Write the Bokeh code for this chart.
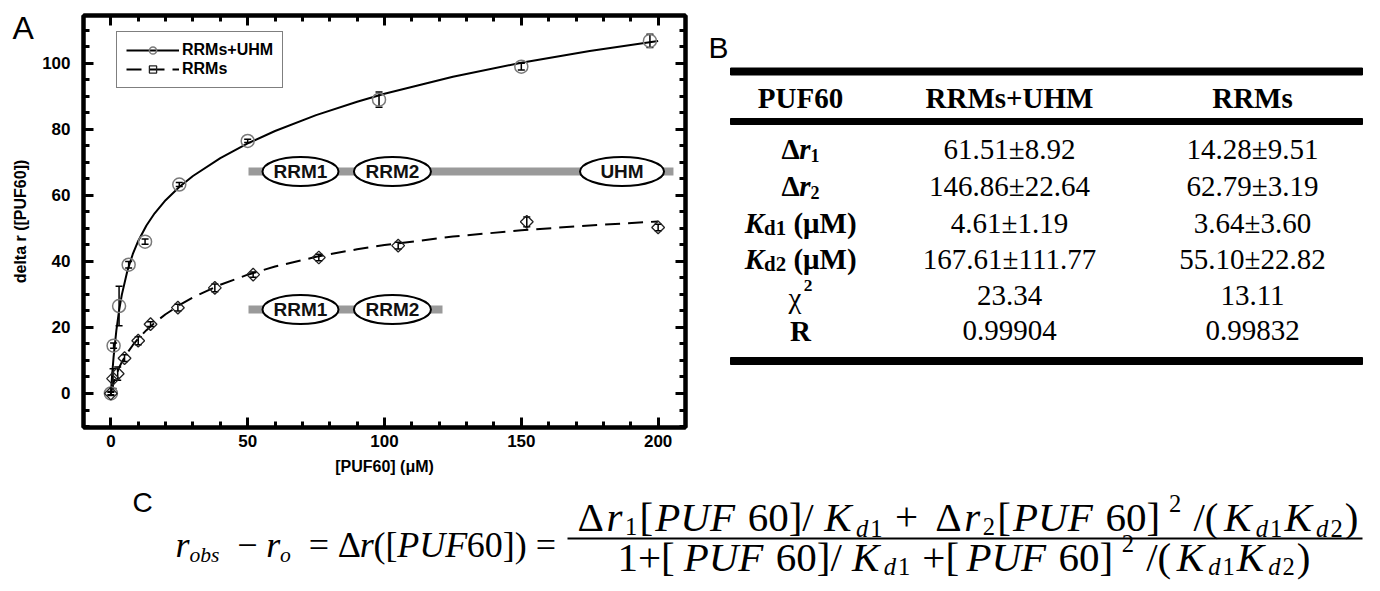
import math
from bokeh.plotting import figure
from bokeh.models import (Range1d, LinearAxis, FixedTicker, Legend, LegendItem,
                          Whisker, TeeHead, ColumnDataSource)
from bokeh.layouts import column, row
from bokeh.embed import file_html
from bokeh.resources import INLINE
from bokeh.core.properties import value

SANS = "Liberation Sans"
SERIF = "Liberation Serif"

# ---------------- data ----------------
uhm_x = [0, 1, 3, 6.5, 12.5, 25, 50, 98, 150, 197]
uhm_y = [0, 14.5, 26.5, 39.0, 46.0, 63.3, 76.5, 89.0, 99.0, 106.8]
uhm_err = [0.6, 0.8, 6.0, 1.0, 0.8, 0.6, 0.5, 2.3, 1.0, 2.0]

rrm_x = [0, 0.8, 2.5, 5, 10, 14.5, 24.5, 38, 52, 76, 105, 152, 200]
rrm_y = [0, 4.5, 6.0, 10.7, 16.0, 21.0, 26.0, 32.0, 36.0, 41.2, 44.8, 52.0, 50.3]
rrm_err = [0.4, 3.0, 2.0, 1.0, 1.2, 0.7, 1.0, 1.2, 0.8, 1.0, 1.0, 1.5, 1.0]

fit_x = [0, 0.5, 1, 2, 3, 4, 6, 8, 10, 13, 16, 20, 25, 30, 40, 50, 60, 75, 90, 100,
         125, 150, 175, 200]
uhm_fit = [0, 6.06, 11.11, 19.07, 25.11, 29.87, 37.01, 42.19, 46.21, 50.90, 54.59,
           58.55, 62.55, 65.88, 71.32, 75.74, 79.51, 84.31, 88.38, 90.78, 95.95,
           100.19, 103.77, 106.81]
rrm_fit = [0, 1.79, 3.31, 5.80, 7.80, 9.50, 12.31, 14.62, 16.61, 19.19, 21.42, 24.00,
           26.74, 29.10, 32.95, 35.99, 38.45, 41.40, 43.70, 44.97, 47.53, 49.44,
           50.92, 52.11]

x_ticks = [0, 50, 100, 150, 200]
x_minor = list(range(-10, 211, 10))
y_ticks = [0, 20, 40, 60, 80, 100]
y_minor = list(range(-10, 115, 5))

x_title = "[PUF60] (μM)"
y_title = "delta r ([PUF60])"
series_names = ["RRMs+UHM", "RRMs"]
domains_full = ["RRM1", "RRM2", "UHM"]
domains_short = ["RRM1", "RRM2"]

table_header = ["PUF60", "RRMs+UHM", "RRMs"]
table_uhm = ["61.51±8.92", "146.86±22.64", "4.61±1.19", "167.61±111.77", "23.34", "0.99904"]
table_rrm = ["14.28±9.51", "62.79±3.19", "3.64±3.60", "55.10±22.82", "13.11", "0.99832"]

# ---------------- text-run helper ----------------
WID = {
    "normal": {".": .25, "±": .564, "(": .333, ")": .333, "[": .333, "]": .333, "/": .278,
               "+": .564, "=": .564, "−": .564, " ": .25, "Δ": .612, "χ": .52, "μ": .5,
               "M": .889, "R": .667},
    "bold": {"P": .611, "U": .722, "F": .611, "R": .722, "M": .944, "s": .389, "+": .570,
             "H": .778, "d": .556, "(": .333, ")": .333, "μ": .556, "Δ": .612, " ": .25},
    "italic": {"r": .389, "o": .5, "b": .5, "s": .389, "P": .611, "U": .722, "F": .611,
               "K": .667, "d": .5, " ": .25},
    "bold italic": {"r": .389, "K": .667, " ": .25},
}


def em(txt, style):
    tab = WID[style]
    return sum(tab.get(c, 0.5) for c in txt)


def runs(fig, items, x, y, size, align="left", span=None, font=SERIF):
    widths = [em(t, st) * size * rs for t, st, rs, dy in items]
    total = sum(widths)
    k = span / total if span else 1.0
    x0 = x - total * k / 2 if align == "center" else x
    off = 0.0
    for (t, st, rs, dy), wdt in zip(items, widths):
        lead = len(t) - len(t.lstrip())
        shift = lead * WID[st].get(" ", .25) * size * rs
        fig.text(x=[x0 + off * k + shift], y=[y + dy], text=[t.strip()],
                 text_font=value(font), text_font_style=st,
                 text_font_size=f"{size * rs:.1f}px", text_align="left",
                 text_baseline="middle", text_color="black")
        off += wdt


def blank(width, height, xr, yr, top=0, bottom=0):
    f = figure(width=width, height=height, x_range=Range1d(*xr), y_range=Range1d(*yr),
               x_axis_type=None, y_axis_type=None, output_backend="svg",
               toolbar_location=None, min_border_left=0, min_border_right=0,
               min_border_top=top, min_border_bottom=bottom)
    f.outline_line_color = None
    return f


# ---------------- panel A: letter + y title strip ----------------
pL = blank(38, 482, (0, 38), (427, 15), top=15, bottom=55)
pL.text(x=[12], y=[27], text=["A"], text_font=value(SANS), text_font_size="32px",
        text_baseline="middle", text_align="left", text_color="black")
pL.text(x=[20], y=[221], text=[y_title], angle=math.pi / 2, text_font=value(SANS),
        text_font_style="bold", text_font_size="16px", text_baseline="middle",
        text_align="center", text_color="black")

# ---------------- panel A: plot ----------------
pA = figure(width=662, height=482, x_range=Range1d(-10, 210), y_range=Range1d(-10.3, 114.5),
            output_backend="svg", toolbar_location=None,
            min_border_left=45, min_border_right=15, min_border_top=15, min_border_bottom=55)
pA.xgrid.visible = False
pA.ygrid.visible = False
pA.outline_line_color = "black"
pA.outline_line_width = 4


def style_axis(ax, ticks, minor, labels=True):
    ax.ticker = FixedTicker(ticks=ticks, minor_ticks=minor)
    ax.axis_line_width = 4
    ax.axis_line_color = "black"
    ax.major_tick_in = 10
    ax.major_tick_out = 0
    ax.minor_tick_in = 6
    ax.minor_tick_out = 0
    ax.major_tick_line_width = 3
    ax.minor_tick_line_width = 3
    ax.major_tick_line_color = "black"
    ax.minor_tick_line_color = "black"
    if labels:
        ax.major_label_text_font = SANS
        ax.major_label_text_font_style = "bold"
        ax.major_label_text_font_size = "17px"
        ax.major_label_text_color = "black"
        ax.axis_label_text_font = SANS
        ax.axis_label_text_font_style = "bold"
        ax.axis_label_text_font_size = "16px"
        ax.axis_label_text_color = "black"
    else:
        ax.major_label_text_font_size = "0px"
        ax.major_label_text_color = None
        ax.major_label_standoff = 0


xa = pA.xaxis[0]
style_axis(xa, x_ticks, x_minor)
xa.axis_label = x_title
xa.major_label_standoff = 7
xa.axis_label_standoff = 8

ya = pA.yaxis[0]
style_axis(ya, y_ticks, y_minor)
ya.major_label_standoff = 13

top_ax = LinearAxis()
style_axis(top_ax, x_ticks, x_minor, labels=False)
pA.add_layout(top_ax, "above")
right_ax = LinearAxis()
style_axis(right_ax, y_ticks, y_minor, labels=False)
pA.add_layout(right_ax, "right")

# domain diagrams
pA.segment(x0=[50.3, 50.3], y0=[67.24, 25.44], x1=[205.6, 121.2], y1=[67.24, 25.44],
           line_color="#9a9a9a", line_width=8, line_cap="butt")
ell_x = [69.3, 102.9, 186.8, 69.3, 102.9]
ell_y = [67.24, 67.24, 67.24, 25.44, 25.44]
ell_w = [76, 77, 84, 76, 77]
pA.ellipse(x=ell_x, y=ell_y, width=ell_w, height=29, width_units="screen",
           height_units="screen", fill_color="white", line_color="black", line_width=2)
pA.text(x=ell_x, y=ell_y, text=domains_full + domains_short, text_align="center",
        text_baseline="middle", text_font=value(SANS), text_font_style="bold",
        text_font_size="19px", text_color="#111111")

# fits
l1 = pA.line(fit_x, uhm_fit, line_color="black", line_width=2)
l2 = pA.line(fit_x, rrm_fit, line_color="black", line_width=2, line_dash="15 8")

# points
s1 = pA.scatter(uhm_x, uhm_y, marker="circle", size=13, fill_color=None,
                line_color="#7a7a7a", line_width=1.5)
s2 = pA.scatter(rrm_x, rrm_y, marker="square", size=9, angle=0.785, fill_color=None,
                line_color="#222222", line_width=1.3)

src1 = ColumnDataSource(dict(x=uhm_x, upper=[a + b for a, b in zip(uhm_y, uhm_err)],
                             lower=[a - b for a, b in zip(uhm_y, uhm_err)]))
src2 = ColumnDataSource(dict(x=rrm_x, upper=[a + b for a, b in zip(rrm_y, rrm_err)],
                             lower=[a - b for a, b in zip(rrm_y, rrm_err)]))
for src in (src1, src2):
    pA.add_layout(Whisker(source=src, base="x", upper="upper", lower="lower",
                          line_color="black", line_width=1.5,
                          upper_head=TeeHead(size=7, line_width=1.5, line_color="black"),
                          lower_head=TeeHead(size=7, line_width=1.5, line_color="black")))

legend = Legend(items=[LegendItem(label=series_names[0], renderers=[l1, s1]),
                       LegendItem(label=series_names[1], renderers=[l2, s2])],
                location=(33, 339), margin=0, padding=9, spacing=1,
                glyph_width=53, glyph_height=18, label_height=16, label_standoff=3,
                label_text_font=SANS, label_text_font_style="bold",
                label_text_font_size="16px", label_text_color="black",
                border_line_color="black", border_line_width=1.5,
                background_fill_color="white", background_fill_alpha=1)
pA.add_layout(legend)

# ---------------- panel B (table) ----------------
pB = blank(664, 482, (700, 1364), (427, 15), top=15, bottom=55)
pB.text(x=[708], y=[47], text=["B"], text_font=value(SANS), text_font_size="30px",
        text_baseline="middle", text_align="left", text_color="black")
pB.quad(left=[730, 730, 730], right=[1362, 1362, 1362], top=[67.5, 118, 357],
        bottom=[74.5, 124, 364], color="black")

col_x = [800, 1009, 1252]
head_y = 97
row_y = [148, 185, 222, 258, 295, 330]
TS = 29

pB.text(x=col_x, y=[head_y] * 3, text=table_header, text_font=value(SERIF),
        text_font_style="bold", text_font_size=f"{TS}px", text_align="center",
        text_baseline="middle", text_color="black")
pB.text(x=[col_x[1]] * 6, y=row_y, text=table_uhm, text_font=value(SERIF),
        text_font_size=f"{TS}px", text_align="center", text_baseline="middle",
        text_color="black")
pB.text(x=[col_x[2]] * 6, y=row_y, text=table_rrm, text_font=value(SERIF),
        text_font_size=f"{TS}px", text_align="center", text_baseline="middle",
        text_color="black")

row_labels = [
    [("Δ", "bold", 1, 0), ("r", "bold italic", 1, 0), ("1", "bold", 0.62, 7)],
    [("Δ", "bold", 1, 0), ("r", "bold italic", 1, 0), ("2", "bold", 0.62, 7)],
    [("K", "bold italic", 1, 0), ("d1", "bold", 0.72, 5), (" (μM)", "bold", 1, 0)],
    [("K", "bold italic", 1, 0), ("d2", "bold", 0.72, 5), (" (μM)", "bold", 1, 0)],
    [("χ", "normal", 1, 2), ("2", "bold", 0.6, -10)],
    [("R", "bold", 1, 0)],
]
for items, yc in zip(row_labels, row_y):
    runs(pB, items, col_x[0], yc, TS, align="center")

# ---------------- panel C (equation) ----------------
pC = blank(1364, 101, (0, 1364), (583, 482))
pC.text(x=[132], y=[502], text=["C"], text_font=value(SANS), text_font_size="28px",
        text_baseline="middle", text_align="left", text_color="black")

ES = 36
FS = 41
SB = (0.6, 10)
SP = (0.6, -13)
left_items = [("r", "italic", 1, 0), ("obs", "italic", SB[0], 10),
              ("  − ", "normal", 1, 0), ("r", "italic", 1, 0),
              ("o", "italic", SB[0], 10), ("  = ", "normal", 1, 0),
              ("Δ", "normal", 1, 0), ("r", "italic", 1, 0), ("([", "normal", 1, 0),
              ("PUF", "italic", 1, 0), ("60]) =", "normal", 1, 0)]
runs(pC, left_items, 175, 544, ES, span=380)

num_items = [("Δ", "normal", 1, 0), ("r", "italic", 1, 0), ("1", "normal", SB[0], SB[1]),
             ("[", "normal", 1, 0), ("PUF", "italic", 1, 0), ("60]/", "normal", 1, 0),
             ("K", "italic", 1, 0), ("d", "italic", SB[0], SB[1] + 2),
             ("1", "normal", SB[0], SB[1] + 2), (" + ", "normal", 1, 0),
             ("Δ", "normal", 1, 0), ("r", "italic", 1, 0), ("2", "normal", SB[0], SB[1]),
             ("[", "normal", 1, 0), ("PUF", "italic", 1, 0), ("60]", "normal", 1, 0),
             ("2", "normal", SP[0], SP[1]), (" /(", "normal", 1, 0),
             ("K", "italic", 1, 0), ("d", "italic", SB[0], SB[1] + 2),
             ("1", "normal", SB[0], SB[1] + 2), ("K", "italic", 1, 0),
             ("d", "italic", SB[0], SB[1] + 2), ("2", "normal", SB[0], SB[1] + 2),
             (")", "normal", 1, 0)]
runs(pC, num_items, 577, 516, FS, span=783)

den_items = [("1+[", "normal", 1, 0), ("PUF", "italic", 1, 0), ("60]/", "normal", 1, 0),
             ("K", "italic", 1, 0), ("d", "italic", SB[0], SB[1]),
             ("1", "normal", SB[0], SB[1]), (" +[", "normal", 1, 0),
             ("PUF", "italic", 1, 0), ("60]", "normal", 1, 0),
             ("2", "normal", SP[0], SP[1]), (" /(", "normal", 1, 0),
             ("K", "italic", 1, 0), ("d", "italic", SB[0], SB[1]),
             ("1", "normal", SB[0], SB[1]), ("K", "italic", 1, 0),
             ("d", "italic", SB[0], SB[1]), ("2", "normal", SB[0], SB[1]),
             (")", "normal", 1, 0)]
runs(pC, den_items, 617, 556, FS, span=695)

pC.segment(x0=[567], y0=[538], x1=[1362], y1=[538], line_color="black", line_width=2)

layout = column(row(pL, pA, pB), pC)
open("out.html", "w").write(file_html(layout, INLINE))
